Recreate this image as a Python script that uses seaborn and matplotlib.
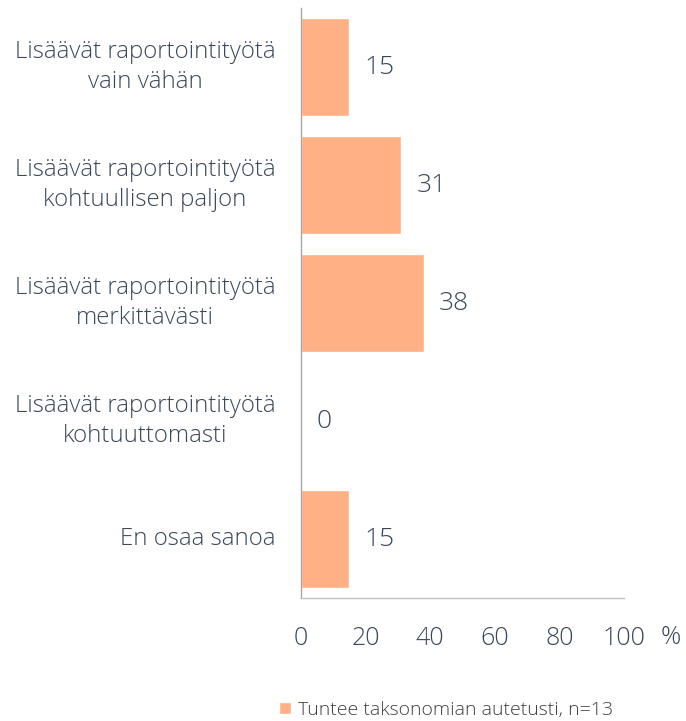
import matplotlib
matplotlib.use("Agg")
import matplotlib.pyplot as plt
import seaborn as sns
import pandas as pd

categories = [
    "Lisäävät raportointityötä\nvain vähän",
    "Lisäävät raportointityötä\nkohtuullisen paljon",
    "Lisäävät raportointityötä\nmerkittävästi",
    "Lisäävät raportointityötä\nkohtuuttomasti",
    "En osaa sanoa",
]
values = [15, 31, 38, 0, 15]
xticks = [0, 20, 40, 60, 80, 100]
series_name = "Tuntee taksonomian autetusti, n=13"

sns.set_theme(style="white")
plt.rcParams["font.family"] = ["Open Sans", "DejaVu Sans"]
plt.rcParams["font.weight"] = "light"
text_color = "#3a4859"
bar_color = "#ffb185"

df = pd.DataFrame({"category": categories, "value": values})

fig = plt.figure(figsize=(6.86, 7.21), dpi=100)
ax = fig.add_axes([301 / 686, 1 - 598 / 721, 323 / 686, 590 / 721])

sns.barplot(data=df, x="value", y="category", orient="h", color=bar_color,
            width=0.83, saturation=1, ax=ax, label=series_name)

ax.bar_label(ax.containers[0], padding=11, fontsize=19, color=text_color)

ax.set_xlim(0, 100)
ax.set_ylim(4.5, -0.5)
ax.set_xticks(xticks)
ax.set_xticklabels([str(t) for t in xticks], fontsize=18, color=text_color)
ax.tick_params(axis="x", length=0, pad=20)
ax.tick_params(axis="y", length=0, pad=18.5)
for lab in ax.get_yticklabels():
    lab.set_fontsize(17.25)
    lab.set_color(text_color)
    lab.set_multialignment("center")
    lab.set_linespacing(1.3)
    lab.set_verticalalignment("center")
ax.set_xlabel("")
ax.set_ylabel("")

for side in ["top", "right"]:
    ax.spines[side].set_visible(False)
ax.spines["left"].set_color("#a6a6a6")
ax.spines["bottom"].set_color("#bfbfbf")
ax.spines["left"].set_linewidth(1)
ax.spines["bottom"].set_linewidth(1)

fig.text(661 / 686, 1 - 637 / 721, "%", fontsize=18, color=text_color,
         ha="left", va="center")

ax.legend().remove()
handles, labels = ax.get_legend_handles_labels()
fig.legend(handles, labels, loc="center", bbox_to_anchor=(446 / 686, 1 - 710 / 721),
           frameon=False, handlelength=0.6, handleheight=0.6,
           handletextpad=0.35, labelcolor="#404040",
           prop={"weight": "light", "size": 14})

fig.savefig("out.png", dpi=100)
